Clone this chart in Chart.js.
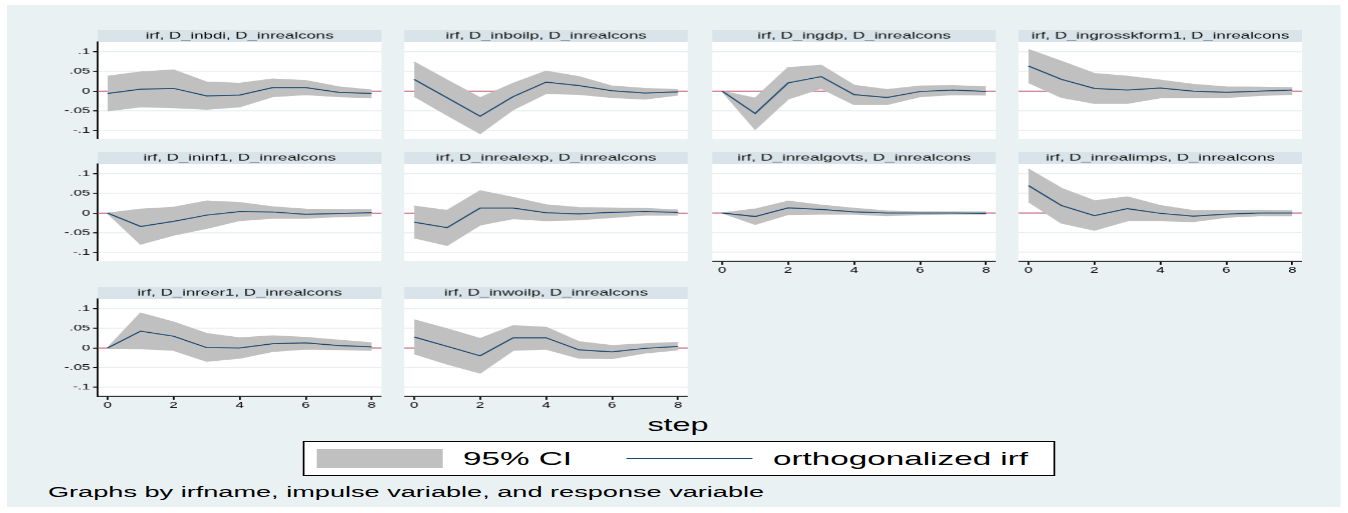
<!DOCTYPE html>
<html>
<head>
<meta charset="utf-8">
<script src="https://cdn.jsdelivr.net/npm/chart.js@4/dist/chart.umd.min.js"></script>
<style>
  html, body { margin: 0; padding: 0; background: #ffffff; overflow: hidden; }
  #page { position: absolute; left: 0; top: 0; height: 513px; transform-origin: 0 0; }
  #page canvas { position: absolute; }
  .abs { position: absolute; }
  .txt { position: absolute; font-family: "Liberation Sans", Arial, sans-serif; color: #000; white-space: nowrap; }
</style>
</head>
<body>
<div id="page"></div>
<script>
// ---- data: orthogonalized IRFs of D_inrealcons, steps 0..8 ----
const steps = [0, 1, 2, 3, 4, 5, 6, 7, 8];
const stepTicks = [0, 2, 4, 6, 8];
const yTickValues = [-0.1, -0.05, 0, 0.05, 0.1];
const yTickLabels = ['-.1', '-.05', '0', '.05', '.1'];
const responseVar = 'D_inrealcons';
const impulseVars = ['D_inbdi', 'D_inboilp', 'D_ingdp', 'D_ingrosskform1', 'D_ininf1',
                     'D_inrealexp', 'D_inrealgovts', 'D_inrealimps', 'D_inreer1', 'D_inwoilp'];

const irfInbdi = [-0.006, 0.005, 0.007, -0.012, -0.010, 0.009, 0.009, -0.003, -0.006];
const hiInbdi  = [0.038, 0.049, 0.054, 0.023, 0.020, 0.031, 0.027, 0.011, 0.003];
const loInbdi  = [-0.050, -0.040, -0.042, -0.046, -0.040, -0.014, -0.009, -0.014, -0.017];

const irfInboilp = [0.030, -0.017, -0.064, -0.014, 0.023, 0.014, 0.001, -0.005, -0.002];
const hiInboilp  = [0.074, 0.028, -0.017, 0.020, 0.051, 0.037, 0.013, 0.007, 0.004];
const loInboilp  = [-0.013, -0.061, -0.108, -0.047, -0.006, -0.008, -0.016, -0.020, -0.010];

const irfIngdp = [0, -0.057, 0.021, 0.037, -0.009, -0.016, -0.001, 0.003, -0.001];
const hiIngdp  = [0, -0.018, 0.060, 0.066, 0.015, 0.004, 0.013, 0.014, 0.011];
const loIngdp  = [0, -0.097, -0.020, 0.007, -0.034, -0.034, -0.014, -0.009, -0.010];

const irfIngrosskform1 = [0.064, 0.030, 0.007, 0.003, 0.008, 0.000, -0.003, 0.000, 0.003];
const hiIngrosskform1  = [0.106, 0.076, 0.045, 0.038, 0.028, 0.017, 0.011, 0.010, 0.009];
const loIngrosskform1  = [0.022, -0.016, -0.031, -0.031, -0.017, -0.017, -0.016, -0.011, -0.008];

const irfIninf1 = [0, -0.034, -0.021, -0.005, 0.004, 0.003, -0.003, -0.001, 0.001];
const hiIninf1  = [0, 0.010, 0.015, 0.031, 0.027, 0.016, 0.010, 0.009, 0.009];
const loIninf1  = [0, -0.079, -0.056, -0.039, -0.019, -0.013, -0.013, -0.009, -0.007];

const irfInrealexp = [-0.023, -0.037, 0.013, 0.013, 0.001, -0.002, 0.002, 0.004, 0.002];
const hiInrealexp  = [0.018, 0.007, 0.057, 0.040, 0.021, 0.014, 0.013, 0.012, 0.008];
const loInrealexp  = [-0.063, -0.082, -0.030, -0.014, -0.019, -0.017, -0.011, -0.005, -0.005];

const irfInrealgovts = [0, -0.009, 0.013, 0.009, 0.003, 0.000, 0.000, 0.000, -0.001];
const hiInrealgovts  = [0, 0.010, 0.030, 0.020, 0.012, 0.005, 0.003, 0.003, 0.003];
const loInrealgovts  = [0, -0.029, -0.004, -0.003, -0.003, -0.007, -0.004, -0.003, -0.003];

const irfInrealimps = [0.070, 0.019, -0.007, 0.011, -0.001, -0.008, -0.003, 0.000, 0.000];
const hiInrealimps  = [0.112, 0.063, 0.031, 0.041, 0.019, 0.006, 0.007, 0.007, 0.006];
const loInrealimps  = [0.029, -0.026, -0.044, -0.020, -0.020, -0.022, -0.011, -0.007, -0.007];

const irfInreer1 = [0, 0.043, 0.030, 0.001, 0.000, 0.011, 0.013, 0.006, 0.003];
const hiInreer1  = [0, 0.089, 0.066, 0.037, 0.026, 0.031, 0.027, 0.020, 0.013];
const loInreer1  = [0, -0.002, -0.006, -0.034, -0.026, -0.009, -0.003, -0.004, -0.006];

const irfInwoilp = [0.028, 0.004, -0.020, 0.026, 0.026, -0.005, -0.010, -0.001, 0.004];
const hiInwoilp  = [0.072, 0.049, 0.024, 0.057, 0.053, 0.016, 0.006, 0.011, 0.014];
const loInwoilp  = [-0.015, -0.041, -0.064, -0.006, -0.003, -0.026, -0.027, -0.013, -0.005];

const irfSeries = [irfInbdi, irfInboilp, irfIngdp, irfIngrosskform1, irfIninf1,
                   irfInrealexp, irfInrealgovts, irfInrealimps, irfInreer1, irfInwoilp];
const hiSeries  = [hiInbdi, hiInboilp, hiIngdp, hiIngrosskform1, hiIninf1,
                   hiInrealexp, hiInrealgovts, hiInrealimps, hiInreer1, hiInwoilp];
const loSeries  = [loInbdi, loInboilp, loIngdp, loIngrosskform1, loIninf1,
                   loInrealexp, loInrealgovts, loInrealimps, loInreer1, loInwoilp];
const zeroRef = 0;

// ---- layout (screen pixels); the page is drawn narrow and stretched horizontally ----
const S = 1.75;
const COL_LEFT = [98, 405, 712, 1018];
const ROW_TOP = [30, 152, 287];
const PLOT_W = 283, TITLE_H = 12, PLOT_H = 97, YAXIS_W = 45, XAXIS_H = 18;
const Y_MIN = -0.123, Y_MAX = 0.125, X_MIN = -0.3, X_MAX = 8.3;

const FONT = '"Liberation Sans", Arial, sans-serif';
const BG = '#eaf1f3', TITLE_BG = '#d9e4ea', GRID = '#e8eef1';
const CI_GRAY = '#c0c0c0', IRF_NAVY = '#1a476f', ZERO_RED = '#c8506c';

const page = document.getElementById('page');
page.style.width = (1348 / S) + 'px';
page.style.transform = 'scaleX(' + S + ')';

function box(x, y, w, h, css) {
  const d = document.createElement('div');
  d.className = 'abs';
  d.style.left = (x / S) + 'px';
  d.style.top = y + 'px';
  d.style.width = (w / S) + 'px';
  d.style.height = h + 'px';
  Object.assign(d.style, css || {});
  page.appendChild(d);
  return d;
}
function text(str, x, yMid, size, align) {
  const d = document.createElement('div');
  d.className = 'txt';
  d.textContent = str;
  d.style.fontSize = size + 'px';
  d.style.lineHeight = size + 'px';
  d.style.top = (yMid - size / 2) + 'px';
  if (align === 'center') {
    d.style.left = ((x - 200) / S) + 'px';
    d.style.width = (400 / S) + 'px';
    d.style.textAlign = 'center';
  } else {
    d.style.left = (x / S) + 'px';
  }
  page.appendChild(d);
  return d;
}

// graph region background
box(7, 5, 1334, 502, { background: BG });

// panel backgrounds, title strip and the zero reference line
const panelDecor = {
  id: 'panelDecor',
  beforeDraw(chart) {
    const { ctx, chartArea: a } = chart;
    ctx.save();
    ctx.fillStyle = '#ffffff';
    ctx.fillRect(a.left, a.top, a.right - a.left, a.bottom - a.top);
    ctx.fillStyle = TITLE_BG;
    ctx.fillRect(a.left, 0, a.right - a.left, a.top);
    ctx.restore();
  },
  beforeDatasetsDraw(chart) {
    const { ctx, chartArea: a } = chart;
    const y = chart.scales.y.getPixelForValue(zeroRef);
    ctx.save();
    ctx.strokeStyle = ZERO_RED;
    ctx.lineWidth = 1;
    ctx.beginPath();
    ctx.moveTo(a.left, y);
    ctx.lineTo(a.right, y);
    ctx.stroke();
    ctx.restore();
  }
};

const toPoints = arr => steps.map((s, k) => ({ x: s, y: arr[k] }));

impulseVars.forEach((imp, i) => {
  const row = Math.floor(i / 4), col = i % 4;
  const hasY = col === 0;
  const hasX = i >= 6;
  const leftA = COL_LEFT[col] - (hasY ? YAXIS_W : 0);
  const widthA = PLOT_W + (hasY ? YAXIS_W : 0);
  const heightA = TITLE_H + PLOT_H + (hasX ? XAXIS_H : 0);

  const canvas = document.createElement('canvas');
  canvas.style.left = (leftA / S) + 'px';
  canvas.style.top = ROW_TOP[row] + 'px';
  canvas.width = Math.floor(widthA / S);
  canvas.height = heightA;
  page.appendChild(canvas);

  const chart = new Chart(canvas, {
    type: 'line',
    data: {
      datasets: [
        { label: 'orthogonalized irf', data: toPoints(irfSeries[i]), borderColor: IRF_NAVY,
          borderWidth: 1, pointRadius: 0, fill: false, tension: 0 },
        { label: '95% CI', data: toPoints(hiSeries[i]), borderColor: CI_GRAY, backgroundColor: CI_GRAY,
          borderWidth: 1, pointRadius: 0, fill: '+1', tension: 0 },
        { label: '95% CI lower', data: toPoints(loSeries[i]), borderColor: CI_GRAY,
          borderWidth: 1, pointRadius: 0, fill: false, tension: 0 }
      ]
    },
    options: {
      responsive: false,
      maintainAspectRatio: false,
      animation: false,
      devicePixelRatio: S,
      events: [],
      layout: { padding: 0, autoPadding: false },
      plugins: {
        legend: { display: false },
        tooltip: { enabled: false },
        title: {
          display: true,
          text: 'irf, ' + imp + ', ' + responseVar,
          fullSize: false,
          padding: 0,
          color: '#111',
          font: { family: FONT, size: 9.6, weight: 'normal', lineHeight: TITLE_H + 'px' }
        }
      },
      scales: {
        x: {
          type: 'linear',
          min: X_MIN, max: X_MAX,
          display: hasX,
          afterBuildTicks: s => { s.ticks = stepTicks.map(v => ({ value: v })); },
          afterFit: s => { s.height = hasX ? XAXIS_H : 0; s.paddingLeft = 0; s.paddingRight = 0; },
          grid: { display: true, drawOnChartArea: false, drawTicks: true, tickLength: 3.5, tickColor: '#000', color: '#000' },
          border: { display: true, color: '#000', width: 1 },
          ticks: { color: '#000', padding: 0.5, maxRotation: 0, autoSkip: false,
                   font: { family: FONT, size: 8.5 },
                   callback: v => String(v) }
        },
        y: {
          type: 'linear',
          min: Y_MIN, max: Y_MAX,
          afterBuildTicks: s => { s.ticks = yTickValues.map(v => ({ value: v })); },
          afterFit: s => { s.width = hasY ? YAXIS_W / S : 0; s.paddingTop = 0; s.paddingBottom = 0; },
          grid: { display: true, drawOnChartArea: true, drawTicks: hasY, tickLength: 4.5 / S,
                  tickColor: '#000', color: GRID, lineWidth: 1 },
          border: { display: hasY, color: '#000', width: 1 },
          ticks: { display: hasY, color: '#000', padding: 3 / S,
                   font: { family: FONT, size: 8.5 },
                   callback: (v) => yTickLabels[yTickValues.indexOf(v)] ?? '' }
        }
      }
    },
    plugins: [panelDecor]
  });
  chart.resize(Math.ceil(widthA / S * 10) / 10, heightA);
});

// x-axis title, legend and note
text('step', 678, 425, 18.5, 'center');
box(302, 441, 754, 35, { background: '#ffffff', border: '1px solid #000', boxSizing: 'border-box' });
box(316, 449, 127, 19, { background: CI_GRAY });
text('95% CI', 463, 458.5, 19);
box(626, 458, 126, 1, { background: IRF_NAVY });
text('orthogonalized irf', 773, 458.5, 19);
text('Graphs by irfname, impulse variable, and response variable', 48, 492, 15.5);
</script>
</body>
</html>
